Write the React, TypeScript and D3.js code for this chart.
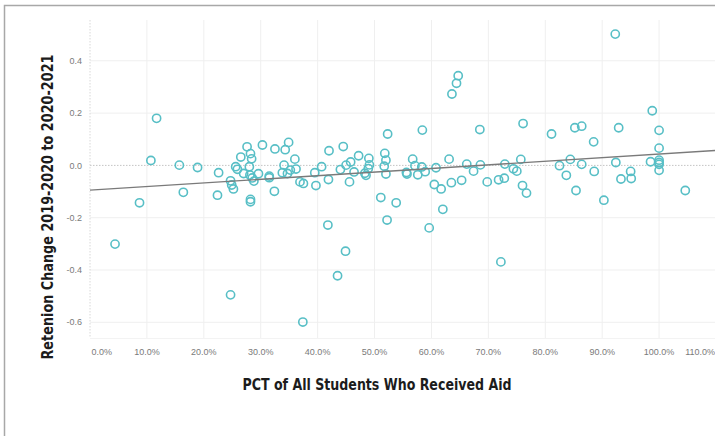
import { useEffect, useRef } from "react";
import * as d3 from "d3";

// share of students receiving aid (fraction) and retention change
const pctAid = [
  0.044, 0.087, 0.107, 0.117, 0.157, 0.164, 0.189, 0.224, 0.226, 0.247,
  0.247, 0.249, 0.252, 0.256, 0.259, 0.265, 0.27, 0.281, 0.285, 0.288,
  0.296, 0.276, 0.282, 0.284, 0.28, 0.282, 0.282, 0.303, 0.315, 0.315,
  0.324, 0.325, 0.338, 0.341, 0.343, 0.349, 0.347, 0.352, 0.362, 0.36,
  0.369, 0.375, 0.374, 0.395, 0.397, 0.407, 0.418, 0.419, 0.42, 0.435,
  0.44, 0.445, 0.449, 0.45, 0.456, 0.458, 0.464, 0.472, 0.483, 0.485,
  0.489, 0.49, 0.491, 0.511, 0.517, 0.518, 0.52, 0.52, 0.522, 0.523,
  0.538, 0.556, 0.557, 0.567, 0.571, 0.576, 0.583, 0.584, 0.589, 0.596,
  0.605, 0.608, 0.617, 0.62, 0.631, 0.635, 0.636, 0.644, 0.647, 0.653,
  0.662, 0.674, 0.685, 0.686, 0.698, 0.718, 0.722, 0.728, 0.729, 0.744,
  0.75, 0.757, 0.76, 0.761, 0.767, 0.811, 0.825, 0.837, 0.844, 0.852,
  0.854, 0.864, 0.864, 0.885, 0.886, 0.903, 0.923, 0.924, 0.929, 0.933,
  0.95, 0.951, 0.985, 0.988, 1.0, 1.0, 1.0, 1.0, 1.0, 1.0, 1.046,
];

const retentionChange = [
  -0.301, -0.143, 0.019, 0.18, 0.001, -0.103, -0.008, -0.114, -0.028, -0.059,
  -0.495, -0.075, -0.09, -0.005, -0.015, 0.032, -0.031, -0.037, -0.048, -0.06,
  -0.032, 0.071, 0.045, 0.025, -0.005, -0.13, -0.139, 0.078, -0.041, -0.047,
  -0.099, 0.063, -0.028, 0.001, 0.06, 0.088, -0.031, -0.018, -0.014, 0.024,
  -0.063, -0.069, -0.599, -0.028, -0.077, -0.005, -0.228, -0.054, 0.056, -0.422,
  -0.016, 0.072, -0.328, 0.001, -0.063, 0.013, -0.025, 0.037, -0.03, -0.038,
  -0.012, 0.027, 0.002, -0.123, -0.003, 0.046, 0.02, -0.033, -0.209, 0.12,
  -0.143, -0.027, -0.033, 0.024, -0.001, -0.036, -0.006, 0.135, -0.024, -0.239,
  -0.073, -0.009, -0.09, -0.168, 0.024, -0.066, 0.273, 0.314, 0.343, -0.057,
  0.005, -0.022, 0.137, 0.002, -0.063, -0.055, -0.369, -0.049, 0.005, -0.013,
  -0.022, 0.023, -0.077, 0.16, -0.106, 0.12, -0.001, -0.038, 0.023, 0.144,
  -0.096, 0.15, 0.004, 0.09, -0.023, -0.133, 0.502, 0.011, 0.144, -0.052,
  -0.023, -0.05, 0.014, 0.209, 0.134, 0.066, 0.02, 0.011, 0.004, -0.019, -0.096,
];

const xTicks = [0, 0.1, 0.2, 0.3, 0.4, 0.5, 0.6, 0.7, 0.8, 0.9, 1.0, 1.1];
const yTicks = [0.4, 0.2, 0, -0.2, -0.4, -0.6];

// trend line as drawn in the source
const trendIntercept = -0.0945;
const trendSlope = 0.138;

const xTitle = "PCT of All Students Who Received Aid";
const yTitle = "Retenion Change 2019-2020 to 2020-2021";

export default function App() {
  const ref = useRef<SVGSVGElement>(null);

  useEffect(() => {
    const W = 715;
    const H = 436;
    const left = 90;
    const right = 716;
    const top = 20;
    const bottom = 338;

    const svg = d3.select(ref.current);
    svg.selectAll("*").remove();

    const x = d3.scaleLinear().domain([0, 1.1]).range([left, right]);
    const y = d3.scaleLinear().domain([-0.66, 0.556]).range([bottom, top]);

    svg.append("rect").attr("width", W).attr("height", H).attr("fill", "#fff");

    // card border (only top and left show)
    svg
      .append("rect")
      .attr("x", 4.5)
      .attr("y", 5.5)
      .attr("width", W + 10)
      .attr("height", H + 10)
      .attr("fill", "none")
      .attr("stroke", "#a8a8a8")
      .attr("stroke-width", 1.5);

    const grid = svg.append("g");
    grid
      .selectAll("line.vx")
      .data(xTicks.filter((d) => d !== 0))
      .join("line")
      .attr("x1", (d) => x(d))
      .attr("x2", (d) => x(d))
      .attr("y1", top)
      .attr("y2", bottom)
      .attr("stroke", "#efefef")
      .attr("stroke-width", 1);
    grid
      .selectAll("line.hy")
      .data(yTicks.filter((d) => d !== 0))
      .join("line")
      .attr("x1", left)
      .attr("x2", W)
      .attr("y1", (d) => y(d))
      .attr("y2", (d) => y(d))
      .attr("stroke", "#efefef")
      .attr("stroke-width", 1);
    grid
      .append("line")
      .attr("x1", left)
      .attr("x2", W)
      .attr("y1", bottom + 0.5)
      .attr("y2", bottom + 0.5)
      .attr("stroke", "#f3f3f3");

    // zero lines
    grid
      .append("line")
      .attr("x1", left)
      .attr("x2", W)
      .attr("y1", y(0))
      .attr("y2", y(0))
      .attr("stroke", "#c4c4c4")
      .attr("stroke-dasharray", "1.5,1.5");
    grid
      .append("line")
      .attr("x1", x(0))
      .attr("x2", x(0))
      .attr("y1", top)
      .attr("y2", bottom)
      .attr("stroke", "#d8d8d8")
      .attr("stroke-dasharray", "1.5,1.5");

    // y tick labels
    svg
      .append("g")
      .selectAll("text")
      .data(yTicks)
      .join("text")
      .attr("x", 82)
      .attr("y", (d) => y(d))
      .attr("dy", "0.35em")
      .attr("text-anchor", "end")
      .style("font", "9px 'Liberation Sans', Arial, sans-serif")
      .attr("fill", "#7a7a7a")
      .text((d) => d3.format(".1f")(d).replace("−", "-"));

    // x tick labels, kept inside the chart edges
    const xl = svg
      .append("g")
      .selectAll("text")
      .data(xTicks)
      .join("text")
      .attr("y", 355)
      .attr("text-anchor", "middle")
      .style("font", "9px 'Liberation Sans', Arial, sans-serif")
      .attr("fill", "#7a7a7a")
      .text((d) => d3.format(".1%")(d));
    xl.each(function (d) {
      const node = this as SVGTextElement;
      const w = node.getComputedTextLength();
      const cx = Math.min(Math.max(x(d), left + w / 2 + 1.5), W - w / 2);
      d3.select(node).attr("x", cx);
    });

    // points
    svg
      .append("g")
      .attr("fill", "none")
      .attr("stroke", "#58bfc6")
      .attr("stroke-width", 1.6)
      .selectAll("circle")
      .data(pctAid.map((p, i) => [p, retentionChange[i]]))
      .join("circle")
      .attr("cx", (d) => x(d[0]))
      .attr("cy", (d) => y(d[1]))
      .attr("r", 4.1);

    // trend line
    const line = d3
      .line<number>()
      .x((d) => x(d))
      .y((d) => y(trendIntercept + trendSlope * d));
    svg
      .append("path")
      .attr("d", line([0, 1.1]))
      .attr("fill", "none")
      .attr("stroke", "#7a7a7a")
      .attr("stroke-width", 1.4);

    const titleFont =
      "bold 16px 'Liberation Sans Narrow', 'DejaVu Sans Condensed', 'Roboto', sans-serif";

    svg
      .append("text")
      .attr("x", 377)
      .attr("y", 390)
      .attr("text-anchor", "middle")
      .attr("textLength", 269)
      .attr("lengthAdjust", "spacingAndGlyphs")
      .style("font", titleFont)
      .attr("fill", "#1c1c1c")
      .text(xTitle);

    svg
      .append("text")
      .attr("transform", "translate(53,207) rotate(-90)")
      .attr("text-anchor", "middle")
      .attr("textLength", 305)
      .attr("lengthAdjust", "spacingAndGlyphs")
      .style("font", titleFont)
      .attr("fill", "#1c1c1c")
      .text(yTitle);
  }, []);

  return (
    <svg
      ref={ref}
      width={715}
      height={436}
      style={{ position: "absolute", left: 0, top: 0 }}
    />
  );
}
